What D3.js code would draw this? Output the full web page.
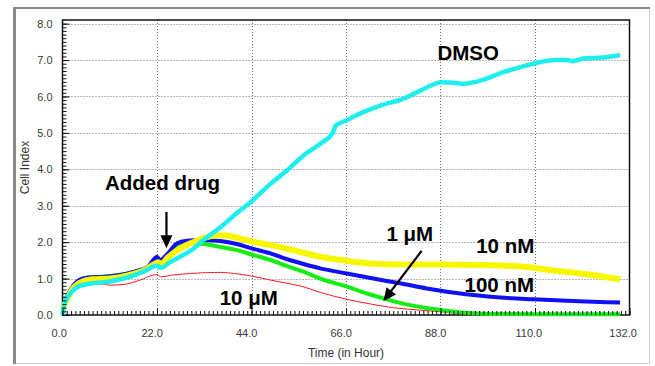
<!DOCTYPE html>
<html>
<head>
<meta charset="utf-8">
<script src="https://cdn.jsdelivr.net/npm/d3@7"></script>
<style>
  body { margin: 0; background: #fff; }
  svg { display: block; font-family: "Liberation Sans", Arial, sans-serif; }
</style>
</head>
<body>
<svg width="655" height="366"></svg>
<script>
// [hour, cell index]
var dmso = [[0,0],[0.3,0.25],[1,0.45],[2,0.62],[4,0.8],[7,0.87],[11,0.92],[15,1.03],[19,1.2],[22,1.35],[23,1.3],[25,1.45],[27.4,1.6],[30.5,1.82],[33,2.08],[36.7,2.4],[40.6,2.8],[44,3.12],[48.4,3.6],[52.3,3.97],[56.1,4.38],[60,4.7],[63,5.02],[63.6,5.2],[66,5.34],[70,5.57],[74,5.75],[79.4,5.94],[83.3,6.16],[88.3,6.39],[91,6.38],[93.3,6.35],[98,6.46],[102.6,6.67],[106.5,6.8],[110.2,6.92],[115,7.0],[117.5,7.0],[118.9,6.97],[121.2,7.04],[125.9,7.07],[129.8,7.14]];
var nM10 = [[0,0.15],[0.5,0.3],[2,0.65],[4,0.88],[7,0.98],[11,1.0],[15,1.08],[19,1.23],[21.5,1.4],[22.3,1.45],[23,1.4],[24.5,1.58],[27,1.8],[30,1.98],[33,2.12],[36,2.18],[38,2.18],[40.6,2.12],[44,2.02],[48.4,1.92],[52.3,1.82],[56.1,1.71],[60,1.6],[66.2,1.49],[72.4,1.41],[78.6,1.39],[88,1.39],[98,1.37],[108,1.32],[114.3,1.22],[122,1.12],[129.8,0.98]];
var nM100 = [[0,0.15],[0.5,0.35],[2,0.72],[4,0.97],[6,1.03],[9,1.04],[13,1.09],[17,1.2],[20,1.34],[21.5,1.56],[22,1.6],[22.7,1.5],[24.3,1.66],[26.7,1.97],[29,2.04],[32,2.06],[36.7,2.03],[40.6,1.95],[44,1.83],[48.4,1.69],[52.3,1.53],[56.1,1.4],[60,1.28],[66.2,1.14],[72.4,1.0],[78.6,0.87],[84.8,0.73],[89.5,0.64],[95.7,0.55],[101.9,0.48],[109.6,0.43],[117.4,0.39],[125.1,0.36],[129.8,0.34]];
var uM1 = [[0,0.15],[0.5,0.35],[2,0.7],[4,0.95],[6,1.03],[9,1.05],[13,1.1],[17,1.2],[20,1.33],[21.5,1.5],[22,1.55],[22.7,1.45],[24.5,1.65],[27,1.88],[30,1.97],[33,1.95],[36.7,1.87],[40.6,1.78],[44,1.66],[48.4,1.51],[52.3,1.34],[56.1,1.19],[60,1.0],[66.2,0.78],[70.9,0.59],[75.5,0.43],[80.9,0.27],[88,0.14],[94,0.06],[100,0.03],[110,0.02],[120,0.02],[129.8,0.02]];
var uM10 = [[0,0.05],[0.7,0.32],[1.9,0.64],[4.2,0.82],[8.8,0.85],[11.2,0.82],[14.3,0.84],[18.1,0.96],[21.2,1.1],[22,1.11],[22.8,1.05],[25.9,1.1],[29.8,1.14],[36.7,1.17],[40,1.14],[44,1.07],[48,0.97],[52.3,0.87],[55.3,0.8],[60,0.62],[66.2,0.43],[70.9,0.32],[77,0.2],[82.5,0.14],[88,0.09],[94,0.03],[100,0.01],[110,0],[129.8,0]];

var xTicks = [0, 22, 44, 66, 88, 110, 132];
var yTicks = [0, 1, 2, 3, 4, 5, 6, 7, 8];

// text labels, anchored in data units (hour, index)
var labels = [
    {text: "DMSO", t: 87.3, v: 7.0},
    {text: "Added drug", t: 9.9, v: 3.43},
    {text: "1 \u03bcM", t: 75.4, v: 2.04},
    {text: "10 nM", t: 96.3, v: 1.69},
    {text: "100 nM", t: 93.6, v: 0.64},
    {text: "10 \u03bcM", t: 36.6, v: 0.27}
];
var arrows = [
    {from: [24.2, 2.83], to: [24.2, 1.83]},
    {from: [83.6, 1.76], to: [74.7, 0.38]}
];

var svg = d3.select("svg"),
    width = +svg.attr("width"),
    height = +svg.attr("height"),
    margin = {top: 20, right: 25.5, bottom: 51, left: 62.5};

var x = d3.scaleLinear()
    .domain([0, 132])
    .range([margin.left, width - margin.right]);

var y = d3.scaleLinear()
    .domain([0, 8.1])
    .range([height - margin.bottom, margin.top]);

// outer frame
svg.append("rect")
    .attr("x", 13.5).attr("y", 7.5)
    .attr("width", 636).attr("height", 356)
    .attr("fill", "none").attr("stroke", "#d2d2d2");
svg.append("line")
    .attr("x1", 14.5).attr("x2", 14.5).attr("y1", 7).attr("y2", 364)
    .attr("stroke", "#8a8a8a").attr("stroke-width", 3);
svg.append("line")
    .attr("x1", 13).attr("x2", 650).attr("y1", 8).attr("y2", 8)
    .attr("stroke", "#8a8a8a").attr("stroke-width", 2);

// grid
var grid = svg.append("g")
    .attr("stroke", "#707070")
    .attr("stroke-dasharray", "1,2");
grid.selectAll(".gx")
    .data(xTicks.slice(1, -1))
    .enter().append("line")
    .attr("x1", function(d) { return Math.round(x(d)) + 0.5; })
    .attr("x2", function(d) { return Math.round(x(d)) + 0.5; })
    .attr("y1", y.range()[1])
    .attr("y2", y.range()[0]);
grid.selectAll(".gy")
    .data(yTicks.slice(1))
    .enter().append("line")
    .attr("x1", x.range()[0])
    .attr("x2", x.range()[1])
    .attr("y1", function(d) { return Math.round(y(d)) + 0.5; })
    .attr("y2", function(d) { return Math.round(y(d)) + 0.5; });

// plot box
svg.append("rect")
    .attr("x", x.range()[0]).attr("y", y.range()[1])
    .attr("width", x.range()[1] - x.range()[0])
    .attr("height", y.range()[0] - y.range()[1])
    .attr("fill", "none").attr("stroke", "#111").attr("stroke-width", 1.5);

// series, bottom to top
var series = [
    {data: uM10, color: "#ff1a1a", w: 1},
    {data: uM1, color: "#14ee14", w: 4},
    {data: nM100, color: "#1010f5", w: 4},
    {data: nM10, color: "#f7f700", w: 6},
    {data: dmso, color: "#1eeeee", w: 4.5}
];

var line = d3.line()
    .curve(d3.curveMonotoneX)
    .x(function(d) { return x(d[0]); })
    .y(function(d) { return y(d[1]); });

svg.append("g")
    .selectAll("path")
    .data(series)
    .enter().append("path")
    .attr("fill", "none")
    .attr("stroke", function(d) { return d.color; })
    .attr("stroke-width", function(d) { return d.w; })
    .attr("stroke-linejoin", "round")
    .attr("d", function(d) { return line(d.data); });

// axes
var fmt = d3.format(".1f");

svg.append("g")
    .attr("transform", "translate(" + x.range()[0] + ",0)")
    .call(d3.axisLeft(y).tickValues(d3.range(0, 81).map(function(i) { return i / 10; }))
        .tickSize(-4).tickSizeOuter(0).tickFormat(""))
    .call(function(g) { g.select(".domain").remove(); g.selectAll("line").attr("stroke", "#111"); });

svg.append("g")
    .attr("transform", "translate(" + x.range()[0] + ",0)")
    .call(d3.axisLeft(y).tickValues(yTicks).tickSize(-7).tickSizeOuter(0)
        .tickPadding(10).tickFormat(fmt))
    .call(function(g) {
        g.select(".domain").remove();
        g.selectAll("line").attr("stroke", "#111");
        g.selectAll("text").attr("fill", "#3a3a3a").attr("font-size", 11)
            .attr("font-family", "Liberation Sans, Arial, sans-serif");
    });

svg.append("g")
    .attr("transform", "translate(0," + y.range()[0] + ")")
    .call(d3.axisBottom(x).tickValues(d3.range(0, 133)).tickSize(-4).tickSizeOuter(0).tickFormat(""))
    .call(function(g) { g.select(".domain").remove(); g.selectAll("line").attr("stroke", "#111"); });

svg.append("g")
    .attr("transform", "translate(0," + y.range()[0] + ")")
    .call(d3.axisBottom(x).tickValues(xTicks).tickSize(-7).tickSizeOuter(0)
        .tickPadding(14).tickFormat(fmt))
    .call(function(g) {
        g.select(".domain").remove();
        g.selectAll("line").attr("stroke", "#111");
        g.selectAll("text").attr("fill", "#3a3a3a").attr("font-size", 11)
            .attr("font-family", "Liberation Sans, Arial, sans-serif")
            .attr("dx", function() { return -0.25 * this.getComputedTextLength(); });
    });

// axis titles
svg.append("text")
    .attr("x", (x.range()[0] + x.range()[1]) / 2)
    .attr("y", 357)
    .attr("text-anchor", "middle")
    .attr("font-size", 12)
    .attr("fill", "#333")
    .text("Time (in Hour)");

svg.append("text")
    .attr("transform", "translate(29," + ((y.range()[0] + y.range()[1]) / 2) + ") rotate(-90)")
    .attr("text-anchor", "middle")
    .attr("font-size", 12)
    .attr("fill", "#333")
    .text("Cell Index");

// annotations
svg.append("g")
    .selectAll("text")
    .data(labels)
    .enter().append("text")
    .attr("x", function(d) { return x(d.t); })
    .attr("y", function(d) { return y(d.v); })
    .attr("font-size", 20.5)
    .attr("font-weight", "bold")
    .attr("fill", "#000")
    .text(function(d) { return d.text; });

var headLen = 13, headW = 6;
var arr = svg.append("g");
arrows.forEach(function(a) {
    var x0 = x(a.from[0]), y0 = y(a.from[1]),
        x1 = x(a.to[0]), y1 = y(a.to[1]);
    var dx = x1 - x0, dy = y1 - y0, len = Math.sqrt(dx * dx + dy * dy);
    var ux = dx / len, uy = dy / len;
    var bx = x1 - ux * headLen, by = y1 - uy * headLen;
    arr.append("line")
        .attr("x1", x0).attr("y1", y0).attr("x2", bx + ux).attr("y2", by + uy)
        .attr("stroke", "#000").attr("stroke-width", 2.2);
    arr.append("path")
        .attr("d", "M" + x1 + "," + y1 +
            "L" + (bx - uy * headW) + "," + (by + ux * headW) +
            "L" + (bx + uy * headW) + "," + (by - ux * headW) + "Z")
        .attr("fill", "#000");
});
</script>
</body>
</html>
